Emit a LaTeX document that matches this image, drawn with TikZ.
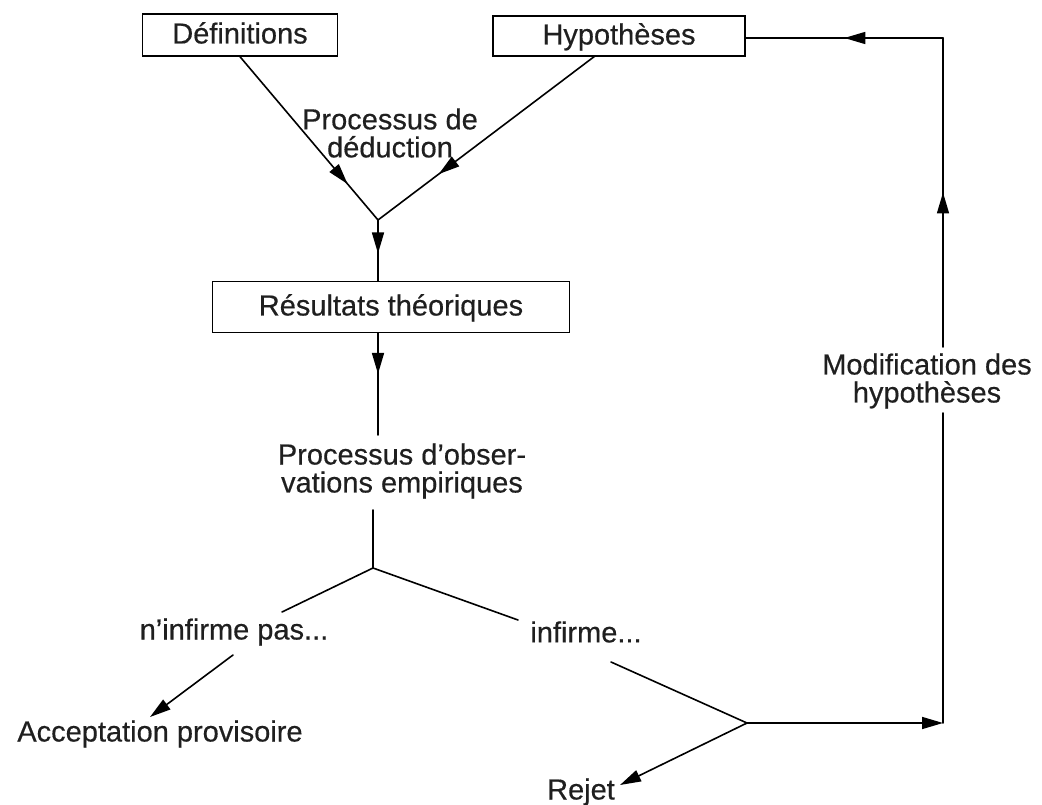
\documentclass[tikz,border=0pt]{standalone}
\usepackage{fontspec}
\setmainfont{Liberation Sans}[FakeBold=0.4]
\usetikzlibrary{arrows.meta,decorations.markings}
\begin{document}
\begin{tikzpicture}[x=1pt,y=-1pt,
  every node/.style={font=\fontsize{29}{28}\selectfont, text=black!88},
  box/.style={draw, line width=1.4pt, inner sep=0pt, text height=21pt, text depth=4pt},
  lbl/.style={inner sep=0pt, align=center},
  conn/.style={line width=1.6pt, line cap=round, line join=round},
  tipe/.style={-{Triangle[length=21pt,width=12pt]}},
  midarr/.style={postaction={decorate},decoration={markings,mark=at position #1 with {\arrow{Triangle[length=21pt,width=12pt]}}}}
]
\useasboundingbox (0,0) rectangle (1042,805);
\fill[white] (0,0) rectangle (1042,805);
% boxes and labels
\node[box,minimum width=195pt,minimum height=42pt] (def) at (240,35) {Définitions};
\node[box,minimum width=252pt,minimum height=40pt] (hyp) at (619,36) {Hypothèses};
\node[lbl] (ded) at (390,133) {Processus de\\déduction};
\node[box,minimum width=357pt,minimum height=51pt] (res) at (391,307) {Résultats théoriques};
\node[lbl] (obs) at (402,471) {Processus d'obser-\\vations empiriques};
\node[lbl] (nip) at (234,632) {n'infirme pas...};
\node[lbl] (inf) at (586,632) {infirme...};
\node[lbl] (acc) at (160,734) {Acceptation provisoire};
\node[lbl] (rejet) at (581,792) {Rejet};
\node[lbl] (modif) at (927,381) {Modification des\\hypothèses};
% coordinates
\coordinate (j1) at (378,220);
\coordinate (hs) at (595,56);
\coordinate (obsA) at (378,435);
\coordinate (obsB) at (373,510);
\coordinate (j2) at (373,568);
\coordinate (l1) at (282,612);
\coordinate (r1) at (518,620);
\coordinate (a1) at (233,655);
\coordinate (a2) at (150,717);
\coordinate (i1) at (611,662);
\coordinate (j3) at (747,723);
\coordinate (corner) at (943,723);
\coordinate (rj) at (620,785);
\coordinate (mbot) at (943,413);
\coordinate (mtop) at (943,347);
\coordinate (tr) at (943,38);
% connectors
\draw[conn,midarr=0.78] (def.south) -- (j1);
\draw[conn,midarr=0.72] (hs) -- (j1);
\draw[conn,midarr=0.55] (j1) -- (j1 |- res.north);
\draw[conn,midarr=0.40] (j1 |- res.south) -- (obsA);
\draw[conn] (obsB) -- (j2);
\draw[conn] (j2) -- (l1);
\draw[conn] (j2) -- (r1);
\draw[conn,tipe] (a1) -- (a2);
\draw[conn] (i1) -- (j3);
\draw[conn,tipe] (j3) -- (corner);
\draw[conn,tipe] (j3) -- (rj);
\draw[conn] (corner) -- (mbot);
\draw[conn,midarr=0.50] (mtop) -- (tr);
\draw[conn,midarr=0.50] (tr) -- (tr -| hyp.east);
\end{tikzpicture}
\end{document}
